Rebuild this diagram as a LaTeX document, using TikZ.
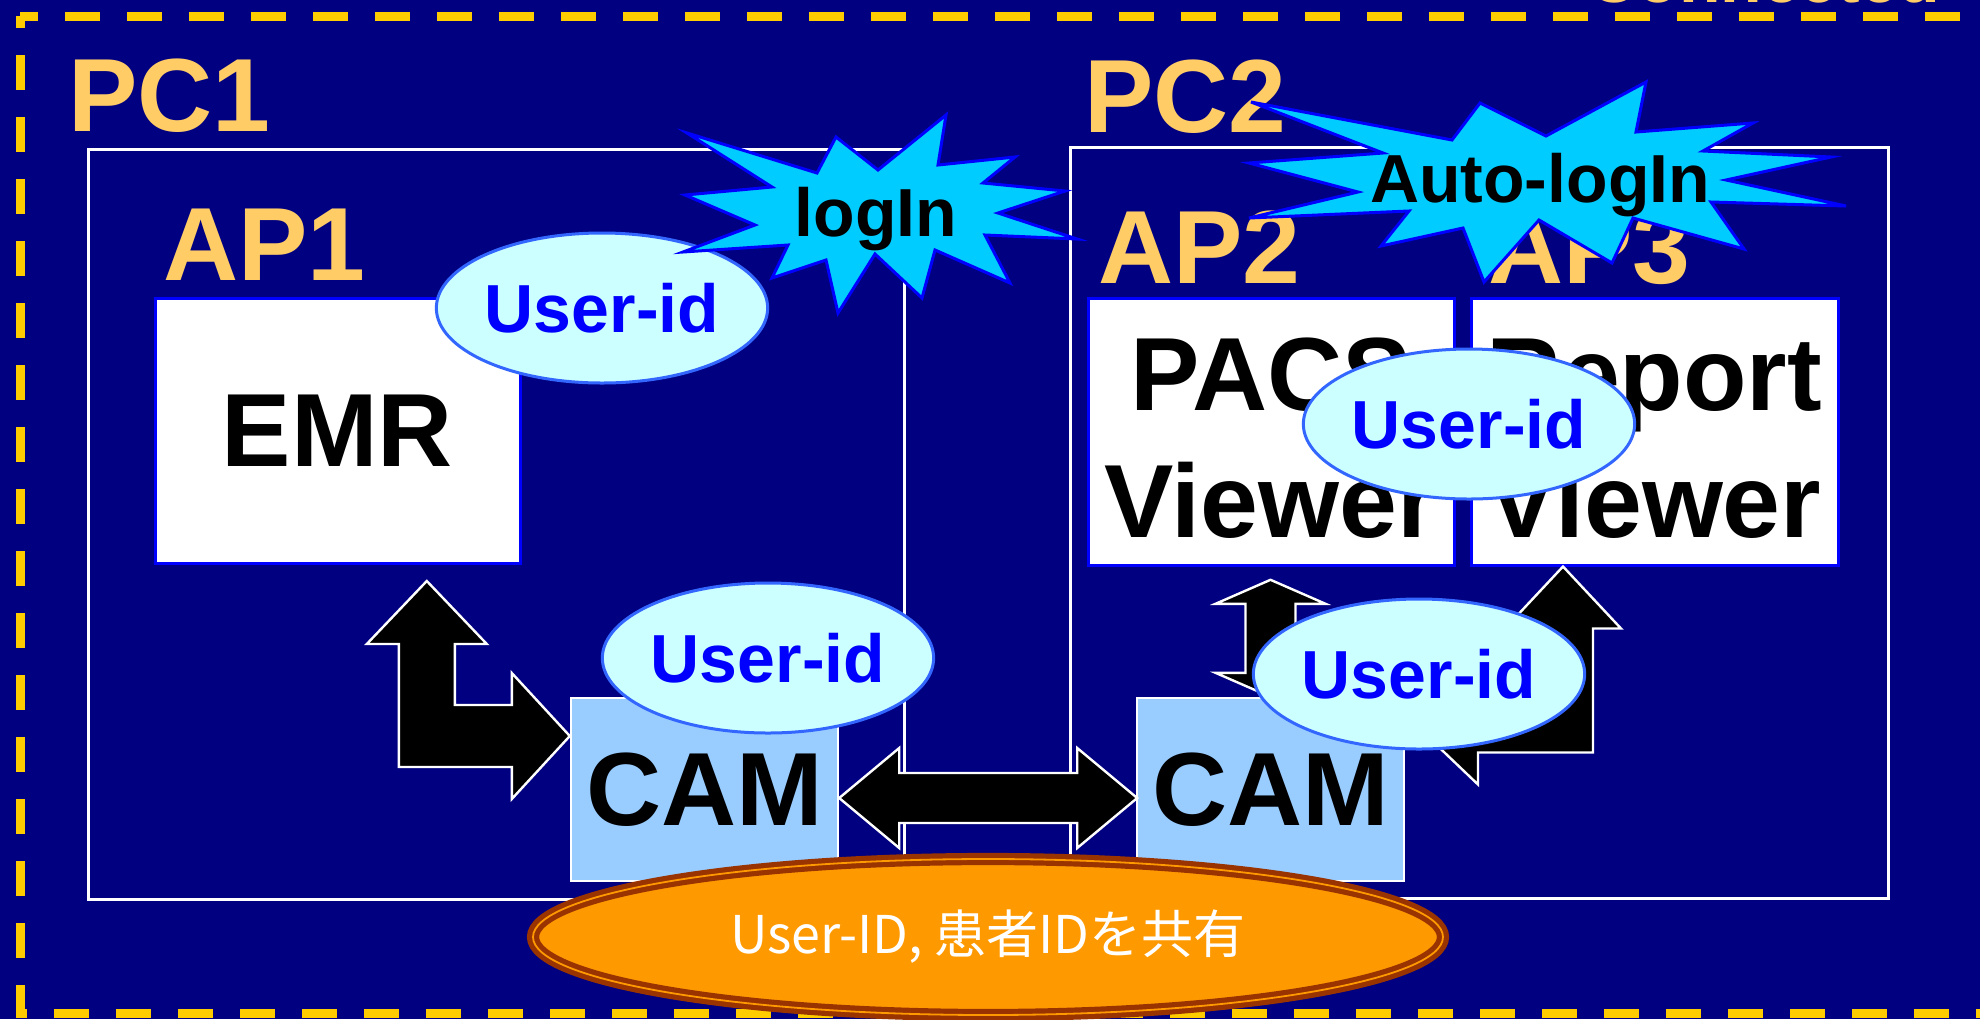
\documentclass[tikz,border=0pt]{standalone}
\usepackage{fontspec}
\setmainfont{Liberation Sans}
\newfontfamily\jpfont{Noto Sans CJK JP}
\usetikzlibrary{shapes.geometric}

\definecolor{navy}{HTML}{000080}
\definecolor{dashyellow}{HTML}{FFCC00}
\definecolor{labelgold}{HTML}{FFCC66}
\definecolor{burstcyan}{HTML}{00CCFF}
\definecolor{bubblecyan}{HTML}{CCFFFF}
\definecolor{bubbleedge}{HTML}{3366FF}
\definecolor{camblue}{HTML}{99CCFF}
\definecolor{shareorange}{HTML}{FF9900}
\definecolor{sharebrown}{HTML}{993300}

\tikzset{
	pcbox/.style={draw=white, line width=1.5pt, inner sep=0pt},
	appbox/.style={draw=blue, fill=white, line width=1.5pt, inner sep=0pt, font=\bfseries\fontsize{52}{52}\selectfont},
	apptext/.style={inner sep=0pt, anchor=base, font=\bfseries\fontsize{52}{52}\selectfont},
	cambox/.style={draw=white, fill=camblue, line width=1.2pt, inner sep=0pt, minimum width=133.5pt, minimum height=91.5pt, font=\bfseries\fontsize{52}{52}\selectfont},
	pclabel/.style={text=labelgold, inner sep=0pt, anchor=base west, font=\bfseries\fontsize{52}{52}\selectfont},
	idbubble/.style={ellipse, draw=bubbleedge, fill=bubblecyan, line width=1.5pt, inner sep=0pt, minimum width=165pt, minimum height=75pt, text=blue, font=\bfseries\fontsize{34}{34}\selectfont},
	burst/.style={fill=burstcyan, draw=blue, line width=1.5pt, line join=miter},
	bursttext/.style={inner sep=0pt, anchor=base, font=\bfseries\fontsize{34}{34}\selectfont},
	blockarrow/.style={fill=black, draw=white, line width=1.2pt, line join=miter}
}

\begin{document}
\begin{tikzpicture}[x=0.5pt, y=-0.5pt]
	\clip (0,0) rectangle (1980,1019);
	\fill[navy] (0,0) rectangle (1980,1019);
	% dashed frame, its right side lies off the page
	\draw[dashyellow, line width=4.5pt, dash pattern=on 17.5pt off 13.5pt, dash phase=8.5pt] (20,16) -- (2100,16);
	\draw[dashyellow, line width=4.5pt, dash pattern=on 17.5pt off 13.5pt, dash phase=11.5pt] (20,16) -- (20,1013) -- (2100,1013);
	\node[text=labelgold, inner sep=0pt, anchor=base west, font=\bfseries\fontsize{34}{34}\selectfont] (topnote) at (1588,2) {Connected};

	% the two PCs
	\node[pcbox, minimum width=408pt, minimum height=375pt] (pc1box) at (496,524) {};
	\node[pcbox, minimum width=409pt, minimum height=375.5pt] (pc2box) at (1479,522.5) {};
	\node[pclabel] (pc1) at (68,131) {PC1};
	\node[pclabel] (ap1) at (163,280) {AP1};
	\node[pclabel] (pc2) at (1084,132) {PC2};
	\node[pclabel] (ap2) at (1098,283) {AP2};
	\node[pclabel] (ap3) at (1488,283) {AP3};

	% applications
	\node[appbox, minimum width=182.5pt, minimum height=132.5pt] (emr) at (337.5,430.5) {EMR};
	\node[appbox, minimum width=183pt, minimum height=133.5pt] (pacs) at (1271,431.5) {};
	\node[appbox, minimum width=183.5pt, minimum height=133.5pt] (report) at (1654.5,431.5) {};
	\node[apptext] (pacs1) at (1271,410) {PACS};
	\node[apptext] (pacs2) at (1271,537) {Viewer};
	\node[apptext] (report1) at (1654.5,410) {Report};
	\node[apptext] (report2) at (1654.5,537) {Viewer};

	\node[cambox] (cam1) at (704.5,789.5) {CAM};
	\node[cambox] (cam2) at (1270.5,789.5) {CAM};

	% block arrows
	\filldraw[blockarrow] ([yshift=26.75pt]cam1.west) -- ++(-58,-63) -- ++(0,32) -- ++(-57,0) -- ++(0,-61) -- ++(32,0)
		-- ++(-60,-63) -- ++(-60,63) -- ++(32,0) -- ++(0,123) -- ++(113,0) -- ++(0,32) -- cycle;
	\filldraw[blockarrow] ([yshift=-4.25pt]cam1.east) -- ++(60,-50) -- ++(0,25) -- ++(178,0) -- ++(0,-25)
		-- ++(60,50) -- ++(-60,50) -- ++(0,-25) -- ++(-178,0) -- ++(0,25) -- cycle;
	\filldraw[blockarrow] (cam2.north) -- ++(-55,-24) -- ++(30,0) -- ++(0,-69) -- ++(-30,0)
		-- ++(55,-24) -- ++(55,24) -- ++(-30,0) -- ++(0,69) -- ++(30,0) -- cycle;
	\filldraw[blockarrow] ([xshift=-45.75pt]report.south) -- ++(58,62) -- ++(-28,0) -- ++(0,124) -- ++(-115,0) -- ++(0,32)
		-- ++(-66,-63) -- ++(66,-63) -- ++(0,32) -- ++(57,0) -- ++(0,-62) -- ++(-30,0) -- cycle;

	% user-id bubbles
	\node[idbubble] (emrid) at (602,308) {User-id};
	\node[idbubble] (viewid) at (1469,424) {User-id};
	\node[idbubble] (cam1id) at (768,658) {User-id};
	\node[idbubble] (cam2id) at (1419,674) {User-id};

	% bursts
	\filldraw[burst] (687,133) -- (817,173) -- (836,137) -- (878,170) -- (946,115) -- (938,165) -- (1015,157)
		-- (983,183) -- (1065,191) -- (998,213) -- (1077,239) -- (985,235) -- (1010,283) -- (935,250)
		-- (922,298) -- (875,254) -- (838,313) -- (826,260) -- (772,278) -- (788,245) -- (683,252)
		-- (755,225) -- (685,195) -- (772,187) -- cycle;
	\node[bursttext] (login) at (876,236) {logIn};
	\filldraw[burst] (1251,102) -- (1452,140) -- (1480,103) -- (1546,136) -- (1646,82) -- (1636,132) -- (1753,123)
		-- (1703,151) -- (1831,157) -- (1726,180) -- (1846,206) -- (1711,202) -- (1744,249) -- (1633,218)
		-- (1612,263) -- (1539,220) -- (1484,282) -- (1463,228) -- (1381,246) -- (1409,211) -- (1249,218)
		-- (1358,192) -- (1249,163) -- (1383,153) -- cycle;
	\node[bursttext] (autologin) at (1540,202) {Auto-logIn};

	% shared ids
	\node[ellipse, fill=shareorange, draw=sharebrown, line width=2.6pt, double=shareorange, double distance=0.9pt,
		minimum width=455pt, minimum height=78pt, inner sep=0pt, text=white,
		font=\jpfont\fontsize{26}{26}\selectfont] (share) at (988,937) {User-ID, 患者IDを共有};
\end{tikzpicture}
\end{document}
